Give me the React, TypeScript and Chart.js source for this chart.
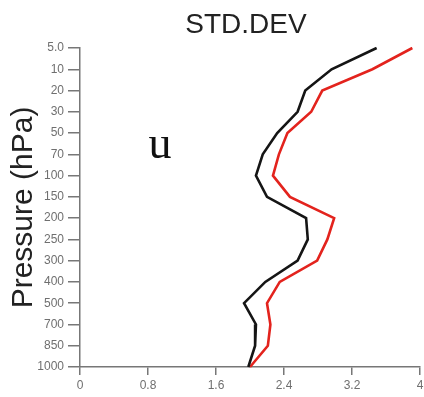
import React, { useEffect, useRef } from "react";
import { Chart, registerables } from "chart.js";

Chart.register(...registerables);

// Pressure levels (hPa), top of the atmosphere first
const LEVELS = ["5.0", "10", "20", "30", "50", "70", "100", "150", "200", "250", "300", "400", "500", "700", "850", "1000"];

// Standard deviation of u at each level
const STD_BLACK = [3.49, 2.96, 2.65, 2.56, 2.32, 2.15, 2.07, 2.2, 2.66, 2.68, 2.56, 2.18, 1.93, 2.07, 2.06, 1.98];
const STD_RED = [3.91, 3.44, 2.85, 2.72, 2.44, 2.34, 2.27, 2.47, 2.99, 2.91, 2.79, 2.35, 2.2, 2.24, 2.21, 2.0];

const X_TICKS = [0, 0.8, 1.6, 2.4, 3.2, 4];

const TITLE = "STD.DEV";
const VAR_LABEL = "u";
const Y_TITLE = "Pressure (hPa)";

const W = 424;
const H = 397;

const textPlugin = {
  id: "panelText",
  afterDraw(chart: any) {
    const { ctx, chartArea } = chart;
    ctx.save();
    ctx.fillStyle = "#222";
    ctx.font = '28px "Liberation Sans", Arial, sans-serif';
    ctx.textAlign = "center";
    ctx.textBaseline = "alphabetic";
    ctx.fillText(TITLE, (chartArea.left + chartArea.right) / 2 - 4, 33);
    ctx.fillStyle = "#111";
    ctx.font = '46px "Liberation Serif", "Times New Roman", serif';
    ctx.fillText(VAR_LABEL, 160, 158);
    ctx.restore();
  },
};

export default function App() {
  const ref = useRef<HTMLCanvasElement | null>(null);

  useEffect(() => {
    if (!ref.current) return;
    const chart = new Chart(ref.current, {
      type: "line",
      data: {
        labels: LEVELS,
        datasets: [
          {
            data: STD_BLACK,
            borderColor: "#151515",
            borderWidth: 2.6,
            pointRadius: 0,
            tension: 0,
          },
          {
            data: STD_RED,
            borderColor: "#e3231d",
            borderWidth: 2.6,
            pointRadius: 0,
            tension: 0,
          },
        ],
      },
      plugins: [textPlugin],
      options: {
        indexAxis: "y",
        responsive: false,
        animation: false,
        layout: { padding: { top: 48, right: 4, left: 0, bottom: 0 } },
        plugins: {
          legend: { display: false },
          tooltip: { enabled: false },
          title: { display: false },
        },
        scales: {
          x: {
            type: "linear",
            min: 0,
            max: 4,
            afterBuildTicks: (s: any) => {
              s.ticks = X_TICKS.map((v) => ({ value: v }));
            },
            afterFit: (s: any) => {
              s.height = 30;
              s.paddingRight = 0;
              s.paddingLeft = 0;
            },
            grid: {
              drawOnChartArea: false,
              drawTicks: true,
              tickLength: 8,
              color: "#777",
              lineWidth: 1.5,
            },
            border: { display: true, color: "#777", width: 1.5 },
            ticks: {
              padding: 3,
              color: "#6f6f6f",
              font: { family: '"Liberation Sans", Arial, sans-serif', size: 12 },
              maxRotation: 0,
              callback: (v: any) => String(Number(Number(v).toFixed(1))),
            },
          },
          y: {
            type: "category",
            offset: false,
            afterFit: (s: any) => {
              s.width = 80;
            },
            grid: {
              drawOnChartArea: false,
              drawTicks: true,
              tickLength: 12,
              color: "#777",
              lineWidth: 1.5,
            },
            border: { display: true, color: "#777", width: 1.5 },
            ticks: {
              padding: 4,
              color: "#6f6f6f",
              font: { family: '"Liberation Sans", Arial, sans-serif', size: 12 },
              autoSkip: false,
            },
            title: {
              display: true,
              text: Y_TITLE,
              color: "#222",
              font: { family: '"Liberation Sans", Arial, sans-serif', size: 30 },
              padding: { top: 6, bottom: 0 },
            },
          },
        },
      },
    });
    return () => chart.destroy();
  }, []);

  return (
    <div style={{ position: "absolute", left: 0, top: 0, width: W, height: H, background: "#fff" }}>
      <canvas ref={ref} width={W} height={H} style={{ width: W, height: H, display: "block" }} />
    </div>
  );
}
